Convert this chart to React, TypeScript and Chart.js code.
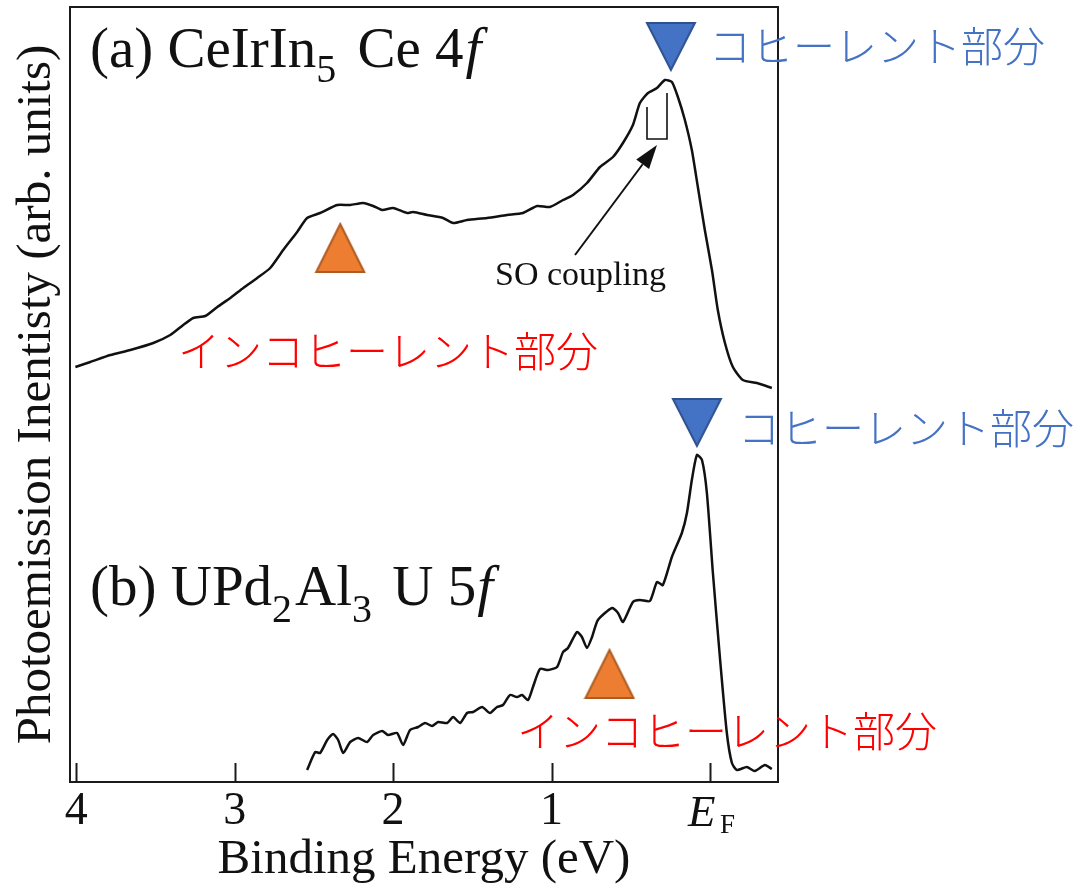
import { useEffect, useRef } from 'react';
import { Chart, registerables } from 'chart.js';

Chart.register(...registerables);

// (a) CeIrIn5 Ce 4f spectrum: binding energy (eV) and intensity (arb. units)
const curveAEnergy = [
  4.006, 3.912, 3.785, 3.659, 3.514, 3.407, 3.325, 3.262, 3.186, 3.110, 3.028, 2.946, 2.858, 2.776,
  2.694, 2.606, 2.543, 2.461, 2.353, 2.271, 2.189, 2.126, 2.069, 2.000, 1.912, 1.874, 1.785, 1.685,
  1.621, 1.533, 1.407, 1.281, 1.180, 1.091, 1.009, 0.927, 0.864, 0.776, 0.694, 0.612, 0.549, 0.486,
  0.442, 0.391, 0.334, 0.284, 0.240, 0.202, 0.158, 0.114, 0.076, 0.032, -0.013, -0.050, -0.095,
  -0.145, -0.208, -0.297, -0.391,
];
const curveAIntensity = [
  415, 420, 427, 432, 439, 447, 457, 464, 466, 475, 484, 494, 504, 514,
  532, 550, 564, 569, 577, 577, 579, 576, 572, 574, 569, 570, 567, 564,
  559, 562, 564, 567, 569, 576, 575, 582, 587, 599, 615, 625, 639, 657,
  679, 689, 694, 702, 700, 685, 662, 632, 595, 552, 512, 472, 439,
  415, 402, 399, 394,
];

// (b) UPd2Al3 U 5f spectrum
const curveBEnergy = [
  2.543, 2.492, 2.461, 2.416, 2.379, 2.347, 2.315, 2.271, 2.221, 2.164, 2.126, 2.069, 2.032, 1.975,
  1.937, 1.893, 1.842, 1.798, 1.754, 1.716, 1.659, 1.621, 1.577, 1.533, 1.495, 1.438, 1.388, 1.344,
  1.306, 1.262, 1.218, 1.186, 1.148, 1.117, 1.073, 1.022, 0.965, 0.927, 0.896, 0.839, 0.808, 0.776,
  0.744, 0.707, 0.618, 0.580, 0.549, 0.486, 0.442, 0.379, 0.334, 0.297, 0.240, 0.177, 0.145, 0.114,
  0.082, 0.050, 0.019, -0.019, -0.063, -0.107, -0.139, -0.170, -0.233, -0.284, -0.347, -0.391,
];
const curveBIntensity = [
  12, 30, 29, 42, 48, 42, 29, 40, 44, 40, 47, 51, 47, 49,
  37, 52, 55, 59, 56, 60, 59, 65, 59, 69, 70, 75, 69, 75,
  77, 87, 85, 87, 82, 95, 113, 112, 115, 130, 134, 150, 145, 134,
  145, 162, 174, 169, 160, 180, 182, 181, 200, 197, 225, 249, 269, 302,
  327, 322, 289, 209, 125, 49, 19, 12, 15, 11, 17, 13,
];

// markers (incoherent = orange up-triangle, coherent = blue down-triangle)
const incoherentMarkerEnergy = [2.334, 0.634];
const incoherentMarkerIntensity = [534, 108];
const coherentMarkerEnergy = [0.246, 0.082];
const coherentMarkerIntensity = [735.5, 359.5];

const xTickValues = [4, 3, 2, 1, 0];
const xTickLabels = ['4', '3', '2', '1', 'E_F'];

const SERIF = '"Liberation Serif", "Times New Roman", serif';
const CJK = '"Noto Sans CJK JP", sans-serif';

function makeTriangle(w: number, h: number, fill: string, stroke: string, down: boolean) {
  const c = document.createElement('canvas');
  c.width = w + 4;
  c.height = h + 4;
  const g = c.getContext('2d')!;
  g.beginPath();
  if (down) {
    g.moveTo(2, 2);
    g.lineTo(w + 2, 2);
    g.lineTo(w / 2 + 2, h + 2);
  } else {
    g.moveTo(w / 2 + 2, 2);
    g.lineTo(w + 2, h + 2);
    g.lineTo(2, h + 2);
  }
  g.closePath();
  g.fillStyle = fill;
  g.fill();
  g.lineWidth = 2;
  g.strokeStyle = stroke;
  g.lineJoin = 'miter';
  g.stroke();
  return c;
}

type Seg = { t: string; size: number; italic?: boolean; dy?: number; extra?: number };

function drawRich(ctx: CanvasRenderingContext2D, x: number, y: number, segs: Seg[]) {
  let cx = x;
  for (const s of segs) {
    ctx.font = `${s.italic ? 'italic ' : ''}${s.size}px ${SERIF}`;
    ctx.fillText(s.t, cx, y + (s.dy || 0));
    cx += ctx.measureText(s.t).width + (s.extra || 0);
  }
}

const overlayPlugin = {
  id: 'overlay',
  afterDatasetsDraw(chart: any) {
    const ctx: CanvasRenderingContext2D = chart.ctx;
    const area = chart.chartArea;
    const xs = chart.scales.x;
    ctx.save();

    // frame
    ctx.strokeStyle = '#1a1a1a';
    ctx.lineWidth = 2;
    ctx.strokeRect(area.left, area.top, area.right - area.left, area.bottom - area.top);

    // inward ticks
    ctx.lineWidth = 2;
    for (const v of xTickValues) {
      const px = Math.round(xs.getPixelForValue(v)) + 0.5;
      ctx.beginPath();
      ctx.moveTo(px, area.bottom);
      ctx.lineTo(px, area.bottom - 19);
      ctx.stroke();
    }

    // E_F tick label
    ctx.fillStyle = '#111';
    ctx.textBaseline = 'alphabetic';
    ctx.textAlign = 'left';
    const ef = xs.getPixelForValue(0);
    ctx.font = `italic 45px ${SERIF}`;
    ctx.fillText('E', ef - 22, 826);
    ctx.font = `27px ${SERIF}`;
    ctx.fillText('F', ef + 10, 833);

    // panel titles
    drawRich(ctx, 90, 67, [
      { t: '(a) CeIrIn', size: 57 },
      { t: '5', size: 40, dy: 15, extra: 7 },
      { t: ' Ce 4', size: 57, extra: 2 },
      { t: 'f', size: 57, italic: true },
    ]);
    drawRich(ctx, 90, 605, [
      { t: '(b) UPd', size: 57 },
      { t: '2', size: 40, dy: 17, extra: 3 },
      { t: 'Al', size: 57 },
      { t: '3', size: 40, dy: 17, extra: 6 },
      { t: ' U 5', size: 57, extra: 1 },
      { t: 'f', size: 57, italic: true },
    ]);

    // SO coupling annotation
    ctx.font = `34px ${SERIF}`;
    ctx.fillText('SO coupling', 495, 285);

    // arrow
    const x0 = 575, y0 = 255, x1 = 657, y1 = 145;
    const ang = Math.atan2(y1 - y0, x1 - x0);
    const hl = 24, hw = 8;
    const bx = x1 - Math.cos(ang) * hl, by = y1 - Math.sin(ang) * hl;
    ctx.strokeStyle = '#111';
    ctx.lineWidth = 2;
    ctx.beginPath();
    ctx.moveTo(x0, y0);
    ctx.lineTo(bx, by);
    ctx.stroke();
    ctx.beginPath();
    ctx.moveTo(x1, y1);
    ctx.lineTo(bx - Math.sin(ang) * hw, by + Math.cos(ang) * hw);
    ctx.lineTo(bx + Math.sin(ang) * hw, by - Math.cos(ang) * hw);
    ctx.closePath();
    ctx.fillStyle = '#111';
    ctx.fill();

    // SO bracket
    ctx.lineWidth = 1.6;
    ctx.beginPath();
    ctx.moveTo(647, 107);
    ctx.lineTo(647, 139);
    ctx.lineTo(667, 139);
    ctx.lineTo(667, 93);
    ctx.stroke();

    // Japanese labels
    ctx.font = `300 42px ${CJK}`;
    ctx.fillStyle = '#4472C4';
    ctx.fillText('コヒーレント部分', 709, 62);
    ctx.fillText('コヒーレント部分', 738, 444);
    ctx.fillStyle = '#FF0000';
    ctx.fillText('インコヒーレント部分', 178, 367);
    ctx.fillText('インコヒーレント部分', 517, 747);

    ctx.restore();
  },
};

export default function App() {
  const ref = useRef<HTMLCanvasElement>(null);

  useEffect(() => {
    const canvas = ref.current!;
    const orangeTri = makeTriangle(48, 48, '#ED7D31', '#AE5A21', false);
    const blueTri = makeTriangle(48, 47, '#4472C4', '#2F528F', true);

    const chart = new Chart(canvas, {
      type: 'scatter',
      data: {
        datasets: [
          {
            data: curveAEnergy.map((e, i) => ({ x: e, y: curveAIntensity[i] })),
            showLine: true,
            borderColor: '#111',
            borderWidth: 2.5,
            pointRadius: 0,
            tension: 0.2,
            fill: false,
          },
          {
            data: curveBEnergy.map((e, i) => ({ x: e, y: curveBIntensity[i] })),
            showLine: true,
            borderColor: '#111',
            borderWidth: 2.5,
            pointRadius: 0,
            tension: 0.2,
            fill: false,
          },
          {
            data: incoherentMarkerEnergy.map((e, i) => ({ x: e, y: incoherentMarkerIntensity[i] })),
            showLine: false,
            pointStyle: orangeTri as any,
            pointRadius: 26,
            clip: false as any,
          },
          {
            data: coherentMarkerEnergy.map((e, i) => ({ x: e, y: coherentMarkerIntensity[i] })),
            showLine: false,
            pointStyle: blueTri as any,
            pointRadius: 26,
            clip: false as any,
          },
        ],
      },
      options: {
        animation: false,
        responsive: false,
        devicePixelRatio: 1,
        layout: { autoPadding: false, padding: { left: 0, right: 304, top: 7, bottom: 0 } },
        plugins: { legend: { display: false }, tooltip: { enabled: false } },
        events: [],
        scales: {
          x: {
            type: 'linear',
            reverse: true,
            min: -0.43,
            max: 4.04,
            afterFit: (s: any) => {
              s.height = 108;
            },
            afterBuildTicks: (s: any) => {
              s.ticks = xTickValues.map((v) => ({ value: v }));
            },
            grid: { display: false, drawTicks: false },
            border: { display: false },
            ticks: {
              padding: 2,
              autoSkip: false,
              maxRotation: 0,
              color: '#111',
              font: { family: SERIF, size: 46 },
              callback: (v: any) => {
                const i = xTickValues.indexOf(Number(v));
                const l = i >= 0 ? xTickLabels[i] : '';
                return l === 'E_F' ? '' : l;
              },
            },
            title: {
              display: true,
              text: 'Binding Energy (eV)',
              color: '#111',
              font: { family: SERIF, size: 49 },
              padding: { top: 0, bottom: 0 },
            },
          },
          y: {
            type: 'linear',
            min: 0,
            max: 775,
            afterFit: (s: any) => {
              s.width = 70;
            },
            ticks: { display: false },
            grid: { display: false, drawTicks: false },
            border: { display: false },
            title: {
              display: true,
              text: 'Photoemission Inentisty (arb. units)',
              color: '#111',
              font: { family: SERIF, size: 49 },
              padding: { top: 8, bottom: 0 },
            },
          },
        },
      },
      plugins: [overlayPlugin],
    } as any);

    return () => chart.destroy();
  }, []);

  return (
    <div style={{ position: 'absolute', left: 0, top: 0, width: 1082, height: 890, background: '#fff' }}>
      <canvas ref={ref} width={1082} height={890} style={{ display: 'block', width: 1082, height: 890 }} />
    </div>
  );
}
